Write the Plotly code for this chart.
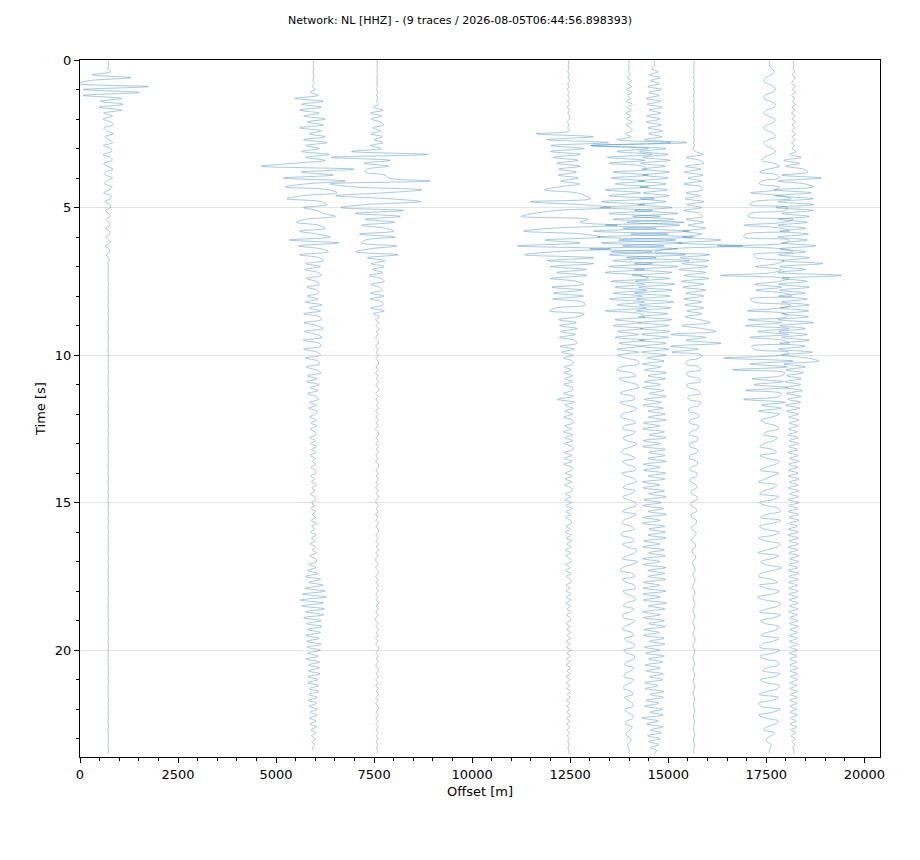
import numpy as np
import plotly.graph_objects as go

TITLE = "Network: NL [HHZ] - (9 traces / 2026-08-05T06:44:56.898393)"
DT = 0.1  # sample interval of the digitised wiggles [s]

# station offsets [m]
offsets = [720, 5952, 7577, 12457, 13997, 14643, 15655, 17584, 18196]

# trace deviations from the offset [m], one row per second
trace_a = [
    0, 0, 5, -10, 60, -415, 580, -485, -770, 1020,
    -640, 790, -640, 340, -200, 380, -230, 350, -120, 110,
    -130, 60, 120, -110, -40, 130, -90, 20, 110, -120,
    60, 90, -130, 40, 100, -110, -20, 120, -80, -60,
    110, -40, -90, 100, 20, -110, 70, 50, -90, 40,
    60, -70, 10, 60, -60, 20, 50, -70, 30, 40,
    -60, 30, 50, -80, 20, 40, -50, 10, 20, -10,
    5, -5, 0, 5, -5, 0, 5, -5, 0, 5,
    -5, 0, 5, -5, 0, 5, -5, 0, 5, -5,
    0, 5, -5, 0, 5, -5, 0, 5, -5, 0,
    5, -5, 0, 5, -5, 0, 5, -5, 0, 5,
    -5, 0, 5, -5, 0, 5, -5, 0, 5, -5,
    0, 5, -5, 0, 5, -5, 0, 5, -5, 0,
    5, -5, 0, 5, -5, 0, 5, -5, 0, 5,
    -5, 0, 5, -5, 0, 5, -5, 0, 5, -5,
    0, 5, -5, 0, 5, -5, 0, 5, -5, 0,
    5, -5, 0, 5, -5, 0, 5, -5, 0, 5,
    -5, 0, 5, -5, 0, 5, -5, 0, 5, -5,
    0, 5, -5, 0, 5, -5, 0, 5, -5, 0,
    5, -5, 0, 5, -5, 0, 5, -5, 0, 5,
    -5, 0, 5, -5, 0, 5, -5, 0, 5, -5,
    0, 5, -5, 0, 5, -5, 0, 5, -5, 0,
    5, -5, 0, 5, -5, 0, 5, -5, 0, 5,
    0, 5, -5, 0, 5, 0,
]
trace_b = [
    0, 5, -5, 10, -10, 5, 10, -15, 20, -30,
    50, -80, 120, -470, 250, -300, 200, -350, 150, -250,
    300, -150, 250, -350, 200, -100, 300, -250, 350, -200,
    150, -300, 400, -200, 300, -500, -1330, 1030, -300, 500,
    -765, 815, -200, -715, 400, 600, -300, -680, 200, 350,
    -250, 100, 250, 560, -200, -430, 150, 300, -350, 100,
    430, -610, 640, -380, 200, 380, -350, 150, 250, -200,
    180, -220, 120, 200, -180, 60, 150, -170, 100, 130,
    -150, 120, -200, 220, -100, 180, -250, 150, 200, -240,
    100, 250, -230, 80, 220, -260, 150, 200, -250, 100,
    180, -200, 120, 150, -180, 60, 200, -150, 100, -170,
    150, -80, 120, -150, 60, 130, -100, 80, -120, 90,
    60, -100, 80, -60, 90, -80, 40, 70, -90, 50,
    -70, 80, -40, 60, -80, 50, -30, 70, -60, 40,
    60, -70, 30, -50, 80, -40, 50, -70, 30, 60,
    -50, 40, -70, 60, -30, 50, -60, 80, -40, 30,
    -60, 70, -50, 40, -80, 60, -30, 70, -90, 50,
    80, -100, 60, -150, 120, -200, 180, -120, 250, -220,
    300, -280, 330, -330, 250, -300, 280, -200, 260, -250,
    200, -180, 220, -150, 180, -200, 150, -170, 200, -160,
    180, -150, 120, -180, 160, -120, 150, -130, 170, -140,
    120, -150, 130, -100, 140, -120, 100, -130, 90, -110,
    100, -80, 90, -100, 70, -90, 80, -60, 70, -50,
    50, -40, 30, -20, 10,
]
trace_c = [
    0, 5, -5, 5, -5, 8, -8, 5, -5, 10,
    -10, 15, -10, 20, -15, 25, -100, 150, -170, 120,
    -150, 80, 170, -120, 100, -160, 130, -80, 150, -170,
    100, -650, 1290, -1170, 330, -330, 300, -250, -300, 200,
    300, 1350, -1200, -600, 1140, 200, -1050, 300, 1110, -300,
    -920, 670, -560, 590, -300, 450, -400, 200, 420, -450,
    460, -300, -400, 500, -200, -540, 540, -250, 200, -150,
    180, -120, 150, -200, 100, 180, -150, 60, 130, -170,
    170, -180, 120, 150, -160, 180, -100, 60, -40, 50,
    -30, 40, -20, 30, -40, 20, 30, -40, 25, -20,
    30, -35, 20, 40, -30, 25, -40, 30, -20, 35,
    -30, 20, 40, -35, 25, -30, 35, -20, 30, -40,
    25, -30, 35, -25, 30, -40, 20, 35, -30, 25,
    -35, 30, -20, 40, -30, 20, -35, 30, 25, -30,
    30, -25, 35, -30, 20, -40, 30, -20, 35, -25,
    -30, 35, -20, 30, -40, 25, -30, 35, -25, 20,
    35, -30, 25, -35, 30, -20, 40, -30, 25, -35,
    -25, 30, -35, 20, 30, -40, 25, -30, 35, -20,
    30, -35, 25, -30, 40, -25, 30, -35, 20, -30,
    -35, 25, -30, 35, -20, 30, -40, 25, -30, 35,
    25, -30, 35, -25, 30, -35, 20, 30, -25, 35,
    -30, 25, -35, 30, -20, 35, -30, 25, -35, 20,
    30, -25, 35, -30, 20, -30, 25, -20, 30, -25,
    20, -20, 15, -10, 10, 0,
]
trace_d = [
    0, 5, -10, 15, -20, 20, -15, 25, -20, 15,
    -25, 20, -15, 25, -20, 15, -25, 20, -15, 25,
    20, -25, 15, -20, 25, -815, 630, -540, 1020, -450,
    380, -460, 300, -380, 250, -300, 300, -250, 200, -260,
    250, -200, 280, -250, -610, 200, 430, 560, -985, 300,
    1070, -300, -890, -1200, 510, 300, 1240, -400, -1140, 400,
    815, -600, 300, -1300, 1070, -400, -1120, 640, -540, 640,
    -460, 450, -300, 470, -460, 200, 380, -420, 350, -380,
    380, -400, 350, 430, -300, -480, 400, 230, -250, 200,
    -230, 220, -200, 180, -230, 160, 210, -220, 150, -180,
    120, -130, 100, 120, -110, 80, -120, 100, -90, 110,
    -120, 100, 80, -130, 120, -280, 150, -100, 120, -90,
    110, -120, 90, 120, -100, 80, -130, 110, -90, 100,
    -110, 90, 120, -100, 80, -110, 100, -120, 90, 80,
    -90, 100, -80, 90, -100, 70, 90, -80, 60, -90,
    80, -70, 90, -60, 70, -80, 60, 80, -70, 50,
    -80, 70, -60, 80, -50, 70, -80, 60, -70, 50,
    60, -70, 50, -80, 70, -60, 50, 70, -60, 40,
    -60, 70, -50, 60, -70, 50, -40, 60, -50, 40,
    50, -60, 40, -50, 60, -40, 50, -60, 40, -50,
    60, -40, 50, -50, 40, -60, 50, -40, 30, -50,
    40, -50, 30, -40, 50, -30, 40, -50, 30, -40,
    30, -40, 40, -30, 20, -40, 30, -30, 20, -30,
    20, -20, 15, -15, 10, 0,
]
trace_e = [
    0, 5, -5, 10, -10, 30, -50, 60, -40, 70,
    -60, 80, -30, 50, -70, 90, -40, 60, -80, 50,
    -60, 90, -70, 40, 80, -90, 60, -300, 1070, -950,
    500, -300, 600, -550, 400, -500, 350, 450, -400, 500,
    -450, 400, -350, 500, -600, 300, -500, 650, -700, 400,
    -720, 600, -500, 800, -400, 1400, -600, 700, -900, 1000,
    -800, 1200, -700, 900, -1000, 600, -500, 700, -400, 600,
    -500, 400, -600, 300, 500, -450, 400, -350, 450, -400,
    350, -500, 400, -300, 450, -600, 300, 400, -350, 300,
    -400, 350, -300, 250, -350, 400, -250, 300, -300, 250,
    -280, -90, 230, 250, -200, -300, 60, 180, -250, -80,
    200, 250, -60, -220, 120, 150, -230, -70, 200, 90,
    -180, -200, 60, 180, -120, -150, 170, 60, -150, -60,
    200, 90, -150, -200, 40, 150, -160, -60, 140, 170,
    -180, -60, 150, 190, -70, -140, 160, 50, -150, -30,
    170, 180, -40, -160, 190, 50, -130, -170, 60, 140,
    -150, -200, 70, 130, -160, -50, 200, 150, -40, -170,
    220, 60, -160, -220, 80, 150, -170, -60, 140, 160,
    -150, -50, 130, 160, -60, -140, 120, 40, -160, -130,
    140, 50, -120, -150, 70, 130, -110, -40, 150, 120,
    -130, -50, 140, 120, -60, -110, 130, 40, -100, -120,
    120, 40, -110, -130, 60, 100, -120, -30, 90, 110,
    -100, -40, 90, 110, -50, -90, 80, 30, -70, -60,
    50, 40, -30, -20, 10, 0,
]
trace_f = [
    0, 0, 10, -60, 100, -120, 150, -90, 130, -160,
    180, -140, 120, -200, 160, -180, 200, -130, 170, -190,
    150, -200, 180, -160, 210, -140, 190, -250, 830, -1630,
    300, -380, 350, -300, 400, -350, 280, -320, 380, -300,
    350, -400, 300, -360, 330, -280, 380, -350, 300, -400,
    450, -500, 600, -550, 500, -700, 650, -800, 900, -600,
    1000, -900, 700, -800, 600, -1100, 800, -700, 900, -500,
    600, -500, 450, -550, 400, -480, 520, -400, 450, -500,
    400, -450, 500, -380, 420, -460, 350, -400, 450, -380,
    380, -350, 400, -320, 360, -380, 300, -350, 380, -320,
    300, -180, 250, -300, 170, -240, 300, -160, 280, -250,
    160, -300, 240, -120, 300, -250, 170, -290, 230, -160,
    280, -150, 300, -270, 140, -290, 260, -130, 300, -280,
    150, -300, 280, -140, 270, -160, 300, -280, 140, -270,
    290, -150, 270, -300, 130, -280, 260, -140, 300, -260,
    170, -290, 240, -160, 310, -280, 150, -300, 270, -140,
    280, -160, 300, -270, 150, -290, 260, -140, 280, -300,
    150, -280, 300, -160, 270, -150, 290, -270, 140, -280,
    300, -290, 160, -280, 310, -150, 270, -300, 150, -270,
    260, -140, 280, -260, 130, -270, 250, -130, 270, -250,
    140, -220, 260, -140, 210, -230, 150, -210, 230, -120,
    220, -240, 100, -230, 250, -110, 230, -200, 120, -240,
    210, -100, 230, -310, 100, -190, 220, -100, 180, -170,
    150, -140, 120, -100, 60, 0,
]
trace_g = [
    0, 5, -5, 8, -6, 5, -8, 10, -5, 6,
    -8, 10, -6, 8, -10, 7, -5, 9, -8, 6,
    -10, 8, -6, 10, -8, 12, -10, 8, -12, 15,
    -20, 40, 230, -200, 150, 250, -220, 180, -250, 230,
    -150, 200, -250, 180, 220, -200, 150, -230, 250, -180,
    200, -250, 150, 220, -200, 250, -150, 300, -280, 200,
    -300, 690, -400, 1250, -600, -1000, 400, -350, 380, -300,
    350, -380, 300, -250, 380, -320, 250, -280, 300, -200,
    250, -250, 200, -230, 250, -180, 200, -220, 150, 410,
    -300, 200, 560, -590, 300, -200, 690, -590, 110, -560,
    200, 150, -180, -200, 120, 170, -190, -150, 130, 160,
    -180, -140, 120, 170, -150, -130, 160, 140, -110, -130,
    100, 120, -90, -110, 120, 100, -80, -110, 100, 90,
    -110, -100, 90, 80, -100, -110, 80, 90, -70, -100,
    80, 70, -90, -80, 60, 75, -70, -60, 80, 70,
    -60, -70, 50, 60, -70, -50, 60, 55, -40, -50,
    50, 40, -45, -50, 35, 40, -50, -35, 40, 30,
    -30, -25, 20, 30, -25, -20, 25, 20, -30, -20,
    20, 25, -20, -15, 25, 20, -25, -20, 15, 20,
    -20, -25, 15, 20, -20, -15, 25, 20, -15, -20,
    20, 15, -20, -25, 15, 20, -15, -20, 20, 15,
    -15, -20, 20, 15, -20, -15, 15, 20, -15, -10,
    15, 20, -15, -10, 15, 10, -15, -10, 10, 15,
    -10, -10, 10, 5, -5, 0,
]
trace_h = [
    0, 0, 5, 60, 120, 40, -100, -150, -50, 100,
    150, 60, -120, -140, 20, 150, 100, -80, -150, -30,
    130, 120, -60, -160, -50, 110, 140, -20, -150, -100,
    80, 150, 40, -140, -200, 100, 250, -50, -250, 200,
    240, -200, -260, 250, 150, -480, 300, 550, -400, -500,
    450, 400, -500, -550, 600, 350, -650, 300, 500, -600,
    -660, 500, 400, -1330, 300, 600, -400, -350, 360, 200,
    -360, 300, 100, -1250, 500, 250, -380, 300, -350, 380,
    560, -500, -400, 550, 300, -560, 400, 450, -550, 300,
    -610, 500, -300, 480, -500, 350, 500, -450, -400, 500,
    300, -1170, 600, -500, 450, -940, 400, 300, -450, 350,
    -400, 450, -610, 300, 250, -660, 400, -200, 300, -280,
    250, 60, -220, -120, 180, 240, -70, -150, 200, 100,
    -150, -250, 80, 180, -240, -60, 250, 150, -90, -230,
    240, 60, -110, -280, 180, 90, -150, -250, 230, 80,
    -260, -90, 240, 270, -70, -230, 280, 60, -260, -120,
    250, 100, -280, -80, 270, 200, -60, -290, 240, 50,
    -220, -110, 300, 80, -230, -280, 60, 200, -260, -90,
    250, 70, -310, -120, 270, 220, -60, -260, 280, 90,
    -230, -100, 250, 200, -60, -220, 240, 90, -210, -250,
    260, 80, -240, -120, 220, 230, -70, -180, 260, 100,
    -240, -90, 250, 210, -80, -260, 230, 60, -270, -220,
    280, 90, -280, -100, 230, 150, -60, -150, 120, 40,
    -80, -60, 40, 20, -10, 0,
]
trace_i = [
    0, 0, 5, -10, 20, -30, 40, -20, -40, 50,
    -30, 40, -50, 30, -20, 45, -40, 30, -50, 40,
    -30, 50, -40, 20, -45, 50, -30, 40, -50, 30,
    -40, 60, -100, 200, -250, 150, -200, 250, 360, -300,
    710, -400, 300, 510, -500, 450, -480, 500, -400, 520,
    -450, 510, -300, 400, -380, 350, -400, 300, -350, 380,
    -400, 350, -300, 560, -350, 300, -380, 400, -300, 740,
    -350, 300, -400, 1220, -300, 350, -380, 400, -350, 300,
    -380, 350, -300, 400, -350, 380, -300, 380, -400, 510,
    -350, 300, -380, 350, -300, 400, -350, 300, -380, 480,
    -300, 350, 640, -250, 300, -200, 250, -180, 200, -220,
    180, -200, 220, -180, 200, -150, 180, -200, 160, -180,
    130, -120, 140, -110, 120, -130, 100, -140, 120, -110,
    130, -120, 110, -140, 120, -100, 130, -120, 110, -130,
    120, -130, 140, -110, 120, -140, 130, -100, 120, -130,
    140, -120, 110, -130, 120, -110, 140, -120, 100, -130,
    120, -140, 130, -110, 120, -130, 110, -120, 140, -100,
    130, -120, 110, -130, 140, -110, 120, -130, 100, -120,
    110, -120, 100, -110, 120, -100, 110, -120, 90, -100,
    110, -100, 120, -90, 100, -110, 90, -100, 110, -90,
    100, -110, 90, -100, 80, -100, 110, -90, 100, -80,
    90, -100, 80, -90, 100, -80, 90, -100, 80, -90,
    80, -90, 100, -80, 70, -90, 80, -70, 60, -70,
    50, -40, 30, -20, 10, 0,
]

traces = [trace_a, trace_b, trace_c, trace_d, trace_e, trace_f, trace_g, trace_h, trace_i]

fig = go.Figure()
for off, vals in zip(offsets, traces):
    vals = np.array(vals, dtype=float)
    t = np.arange(len(vals)) * DT
    fig.add_trace(go.Scatter(x=off + vals, y=t, mode='lines',
                             line=dict(color='rgba(31,119,180,0.6)', width=0.65, shape='spline'),
                             hoverinfo='skip', showlegend=False))

axis_font = dict(family='DejaVu Sans', size=13, color='black')

fig.update_xaxes(range=[0, 20400], tickmode='linear', tick0=0, dtick=2500, tickformat='d',
                 ticks='outside', ticklen=5, tickwidth=1, tickcolor='black',
                 minor=dict(dtick=500, ticks='outside', ticklen=3, tickcolor='black'),
                 showline=True, linecolor='black', linewidth=1, mirror=True,
                 showgrid=False, zeroline=False, tickfont=axis_font,
                 title=dict(text='Offset [m]', font=axis_font, standoff=6))
fig.update_yaxes(range=[23.62, 0], tickmode='linear', tick0=0, dtick=5,
                 ticks='outside', ticklen=5, tickwidth=1, tickcolor='black',
                 minor=dict(dtick=1, ticks='outside', ticklen=3, tickcolor='black'),
                 showline=True, linecolor='black', linewidth=1, mirror=True,
                 showgrid=True, gridcolor='#e3e3e3', gridwidth=1.2, zeroline=False,
                 tickfont=axis_font,
                 title=dict(text='Time [s]', font=axis_font, standoff=6))

# the page adds an 8 px body margin, so the figure is laid out 8 px up/left
fig.update_layout(
    width=920, height=860,
    margin=dict(l=72, r=48, t=52, b=111),
    title=dict(text=TITLE, x=0.4913, xref='container', y=0.986, yref='container',
               xanchor='center', yanchor='middle',
               font=dict(family='DejaVu Sans', size=11, color='black')),
    plot_bgcolor='white', paper_bgcolor='white',
    font=dict(family='DejaVu Sans'),
)
fig.write_html("out.html")
